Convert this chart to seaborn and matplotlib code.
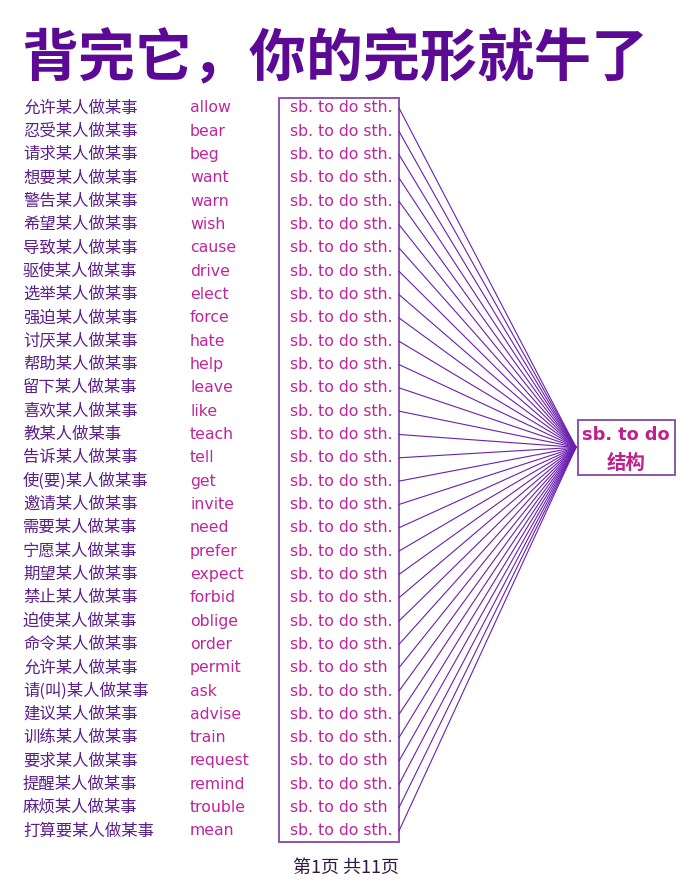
import matplotlib
matplotlib.use("Agg")
import matplotlib.pyplot as plt
import seaborn as sns
import pandas as pd
from matplotlib.patches import Rectangle

sns.set_theme(style="white")
plt.rcParams['font.family'] = ['Noto Sans CJK SC', 'DejaVu Sans']

title = "背完它，你的完形就牛了"
footer = "第1页 共11页"
hub_label = ["sb. to do", "结构"]

chinese = ["允许某人做某事", "忍受某人做某事", "请求某人做某事", "想要某人做某事", "警告某人做某事",
           "希望某人做某事", "导致某人做某事", "驱使某人做某事", "选举某人做某事", "强迫某人做某事",
           "讨厌某人做某事", "帮助某人做某事", "留下某人做某事", "喜欢某人做某事", "教某人做某事",
           "告诉某人做某事", "使(要)某人做某事", "邀请某人做某事", "需要某人做某事", "宁愿某人做某事",
           "期望某人做某事", "禁止某人做某事", "迫使某人做某事", "命令某人做某事", "允许某人做某事",
           "请(叫)某人做某事", "建议某人做某事", "训练某人做某事", "要求某人做某事", "提醒某人做某事",
           "麻烦某人做某事", "打算要某人做某事"]
verbs = ["allow", "bear", "beg", "want", "warn", "wish", "cause", "drive", "elect", "force",
         "hate", "help", "leave", "like", "teach", "tell", "get", "invite", "need", "prefer",
         "expect", "forbid", "oblige", "order", "permit", "ask", "advise", "train", "request",
         "remind", "trouble", "mean"]
patterns = ["sb. to do sth."] * 32
for k in (20, 24, 28, 30):
    patterns[k] = "sb. to do sth"

rows = list(range(len(verbs)))

# geometry (x in pixel-like units, y in row units)
X_CN, X_EN, X_PAT = 23, 190, 290
BOX_L, BOX_R = 279, 399
HUB_X, HUB_ROW = 576, 14.55

df = pd.DataFrame({
    "row": rows * 2,
    "x": [BOX_R] * len(rows) + [HUB_X] * len(rows),
    "y": rows + [HUB_ROW] * len(rows),
})

fig = plt.figure(figsize=(6.9, 8.93), dpi=100)
ax = fig.add_axes([0, 0, 1, 1])
ax.set_xlim(0, 690)
top_row = -108 / 23.32
bot_row = (893 - 108) / 23.32
ax.set_ylim(bot_row, top_row)
ax.axis("off")

sns.lineplot(data=df, x="x", y="y", units="row", estimator=None, sort=False,
             color="#6a1fb0", linewidth=0.8, ax=ax, legend=False)

CN_COL = "#5a1f8a"
PINK = "#c1259a"
LAT = ['DejaVu Sans']

for r, cn, v, p in zip(rows, chinese, verbs, patterns):
    ax.text(X_CN, r, cn, fontsize=11.8, color=CN_COL, va="center", ha="left",
            fontweight="medium")
    ax.text(X_EN, r, v, fontsize=11.3, color=PINK, va="center", ha="left", family=LAT)
    ax.text(X_PAT, r, p, fontsize=11.3, color=PINK, va="center", ha="left", family=LAT)

ax.add_patch(Rectangle((BOX_L, -0.42), BOX_R - BOX_L, 31.9, fill=False,
                       edgecolor="#8c55ad", linewidth=1.4))

# hub box
hb_top = (420 - 108) / 23.32
hb_bot = (475 - 108) / 23.32
ax.add_patch(Rectangle((578, hb_top), 97, hb_bot - hb_top, fill=False,
                       edgecolor="#8c55ad", linewidth=1.4))
ax.text(626, (435 - 108) / 23.32, hub_label[0], fontsize=12.8, color="#c0208c",
        fontweight="bold", ha="center", va="center", family=LAT)
ax.text(626, (463 - 108) / 23.32, hub_label[1], fontsize=14, color="#c0208c",
        fontweight="bold", ha="center", va="center")

ax.text(335, (58 - 108) / 23.32, title, fontsize=41, color="#5c0a96",
        fontweight="heavy", ha="center", va="center")
ax.text(346, (868 - 108) / 23.32, footer, fontsize=13, color="#2e1a45",
        ha="center", va="center")

fig.savefig("out.png", dpi=100)
